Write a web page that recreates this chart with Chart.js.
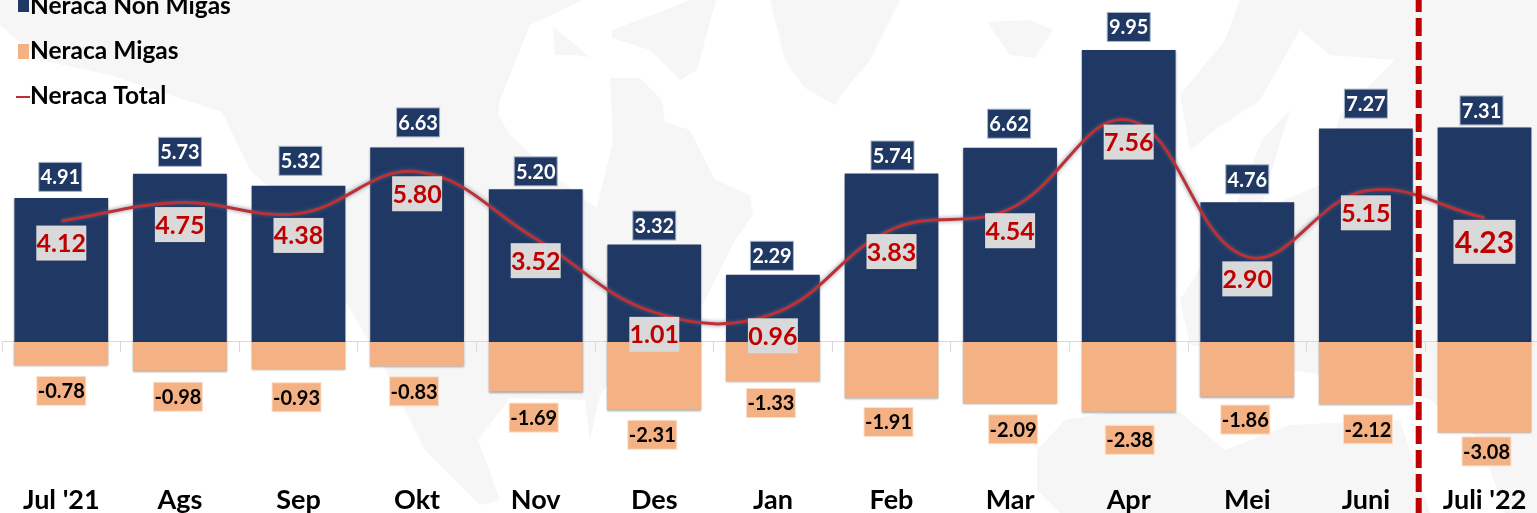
<!DOCTYPE html>
<html lang="en">
<head>
  <meta charset="UTF-8" />
  <title>Neraca Perdagangan</title>
  <script src="https://cdn.jsdelivr.net/npm/chart.js"></script>
  <style>
    html, body {
      margin: 0;
      width: 1537px;
      height: 513px;
      overflow: hidden;
      background: #ffffff;
    }
    #map, #chart {
      position: absolute;
      left: 0;
      top: 0;
    }
  </style>
</head>
<body>
  <!-- faint world map behind the chart, rough outlines only -->
  <svg id="map" width="1537" height="513" fill="#f6f6f6">
    <path d="M0,25 L40,60 L110,75 L170,95 L222,112 L250,170 L300,215 L345,300 L385,370 L425,450 L480,505 L500,500 L478,440 L510,398 L585,400 L590,440 L600,395 L640,345 L700,310 L735,240 L753,215 L750,195 L715,180 L690,130 L665,122 L662,100 L640,78 L610,78 L613,140 L597,208 L560,180 L510,135 L498,115 L500,100 L520,50 L530,25 L583,0 L0,0 Z" />
    <path d="M553,27 L590,57 L575,55 L555,55 Z" />
    <path d="M612,30 L660,12 L690,0 L716,0 L697,70 L680,80 L650,50 L612,38 Z" />
    <path d="M770,0 L900,0 L870,60 L845,90 L835,105 L805,88 L785,60 Z" />
    <path d="M987,22 L1030,20 L1053,30 L1035,58 L1010,55 Z" />
    <path d="M1180,95 L1225,40 L1240,0 L1537,0 L1537,513 L1505,513 L1480,440 L1430,400 L1360,380 L1290,370 L1230,350 L1190,345 L1180,300 L1230,220 L1262,140 L1290,110 L1260,210 L1320,185 L1340,115 L1395,60 L1330,55 L1300,30 L1260,100 L1215,130 L1190,150 Z" />
    <path d="M1037,450 L1065,420 L1110,412 L1180,412 L1225,450 L1290,425 L1400,420 L1430,513 L1060,513 L1037,490 Z" />
  </svg>
  <canvas id="chart" width="1560" height="513"></canvas>

  <script>
    const months = ["Jul '21", "Ags", "Sep", "Okt", "Nov", "Des", "Jan", "Feb", "Mar", "Apr", "Mei", "Juni", "Juli '22"];
    const nonMigas = [4.91, 5.73, 5.32, 6.63, 5.20, 3.32, 2.29, 5.74, 6.62, 9.95, 4.76, 7.27, 7.31];
    const migas = [-0.78, -0.98, -0.93, -0.83, -1.69, -2.31, -1.33, -1.91, -2.09, -2.38, -1.86, -2.12, -3.08];
    const total = [4.12, 4.75, 4.38, 5.80, 3.52, 1.01, 0.96, 3.83, 4.54, 7.56, 2.90, 5.15, 4.23];

    // label nudges in px, the source placed its labels by hand
    const nonMigasGap = [21, 22, 25, 25, 18, 19, 19, 18, 24, 23, 23, 25, 17];
    const nonMigasDx = [-1, 0, 2, 1, 0, 0, -1, 1, -1, 0, 0, 0, -3];
    const migasGap = [26, 26, 28, 25, 26, 25, 22, 24, 26, 28, 23, 25, 19];
    const migasDx = [0, -2, -2, -3, -2, -2, -2, -3, 3, 1, -2, 2, 2];

    const navy = "#1f3864";
    const peach = "#f4b183";
    const red = "#c00000";
    const lineRed = "#bd3034";
    const font = "Lato, sans-serif";

    function labelBox(ctx, text, cx, cy, w, h, bg, edge, color, size) {
      ctx.fillStyle = bg;
      ctx.fillRect(cx - w / 2, cy - h / 2, w, h);
      if (edge) {
        ctx.strokeStyle = edge;
        ctx.lineWidth = 1;
        ctx.strokeRect(cx - w / 2, cy - h / 2, w, h);
      }
      ctx.fillStyle = color;
      ctx.font = "700 " + size + "px " + font;
      ctx.textAlign = "center";
      ctx.textBaseline = "middle";
      ctx.fillText(text, cx, cy + 1);
    }

    const shadowPlugin = {
      id: "softShadow",
      beforeDatasetDraw(chart, args) {
        const ctx = chart.ctx;
        ctx.save();
        if (chart.data.datasets[args.index].type === "line") {
          ctx.shadowColor = "rgba(90,100,130,0.8)";
          ctx.shadowBlur = 4;
        } else {
          ctx.shadowColor = "rgba(0,0,0,0.35)";
          ctx.shadowBlur = 2;
          ctx.shadowOffsetY = 1;
        }
      },
      afterDatasetDraw(chart) {
        chart.ctx.restore();
      }
    };

    const labelPlugin = {
      id: "handLabels",
      afterDatasetsDraw(chart) {
        const ctx = chart.ctx;
        const x = chart.scales.x;
        const y = chart.scales.y;
        ctx.save();

        // dashed divider before the latest month
        const step = x.getPixelForValue(1) - x.getPixelForValue(0);
        const divX = x.getPixelForValue(12) - step / 2 - 6.5;
        ctx.strokeStyle = red;
        ctx.lineWidth = 6;
        ctx.setLineDash([18, 6]);
        ctx.beginPath();
        ctx.moveTo(divX, -6);
        ctx.lineTo(divX, 513);
        ctx.stroke();
        ctx.setLineDash([]);

        months.forEach((m, i) => {
          const cx = x.getPixelForValue(i);
          labelBox(ctx, nonMigas[i].toFixed(2), cx + nonMigasDx[i], y.getPixelForValue(nonMigas[i]) - nonMigasGap[i],
            43, 29, navy, "#aab4c8", "#ffffff", 20);
          labelBox(ctx, migas[i].toFixed(2), cx + migasDx[i], y.getPixelForValue(migas[i]) + migasGap[i],
            49, 29, peach, "#fbe0cb", "#000000", 20);
          const last = i === months.length - 1;
          labelBox(ctx, total[i].toFixed(2), cx, y.getPixelForValue(total[i]) + (last ? 24 : 22),
            last ? 62 : 50, last ? 44 : 35, "#d9d9d9", null, red, last ? 30 : 25);
        });

        // legend
        ctx.textAlign = "left";
        ctx.textBaseline = "middle";
        ctx.font = "700 24.5px " + font;
        ctx.fillStyle = navy;
        ctx.fillRect(18, 0, 11, 12);
        ctx.fillStyle = peach;
        ctx.fillRect(18, 44, 11, 15);
        ctx.strokeStyle = lineRed;
        ctx.lineWidth = 2;
        ctx.beginPath();
        ctx.moveTo(16, 97);
        ctx.lineTo(30, 97);
        ctx.stroke();
        ctx.fillStyle = "#000000";
        chart.data.datasets.slice().reverse().forEach((d, i) => {
          ctx.fillText(d.label, 30, 6 + i * 45);
        });
        ctx.restore();
      }
    };

    new Chart(document.getElementById("chart"), {
      data: {
        labels: months,
        datasets: [
          { type: "line", label: "Neraca Total", data: total, borderColor: lineRed, borderWidth: 3, pointRadius: 0, tension: 0.4, order: 0 },
          { type: "bar", label: "Neraca Migas", data: migas, backgroundColor: peach, order: 1 },
          { type: "bar", label: "Neraca Non Migas", data: nonMigas, backgroundColor: navy, order: 1 }
        ]
      },
      options: {
        responsive: false,
        animation: false,
        layout: { padding: { left: 2, right: 16.2, top: 0, bottom: 0 } },
        datasets: { bar: { barPercentage: 0.79, categoryPercentage: 1 } },
        plugins: { legend: { display: false }, tooltip: { enabled: false } },
        scales: {
          x: {
            stacked: true,
            grid: { display: false },
            border: { display: false },
            afterFit(s) { s.height = 38; },
            ticks: {
              color: "#000000",
              padding: 1,
              maxRotation: 0,
              autoSkip: false,
              font: { family: font, size: 27, weight: "700" }
            }
          },
          // thin zero line with the small ticks between months
          zeroAxis: {
            type: "category",
            axis: "x",
            labels: months,
            position: { y: 0 },
            offset: true,
            ticks: { display: false },
            border: { display: true, color: "#d9d9d9", width: 1 },
            grid: { offset: true, drawOnChartArea: false, drawTicks: true, tickLength: 10, color: "#d9d9d9" }
          },
          y: {
            stacked: true,
            display: false,
            min: -4.532,
            max: 11.652
          }
        }
      },
      plugins: [shadowPlugin, labelPlugin]
    });
  </script>
</body>
</html>
